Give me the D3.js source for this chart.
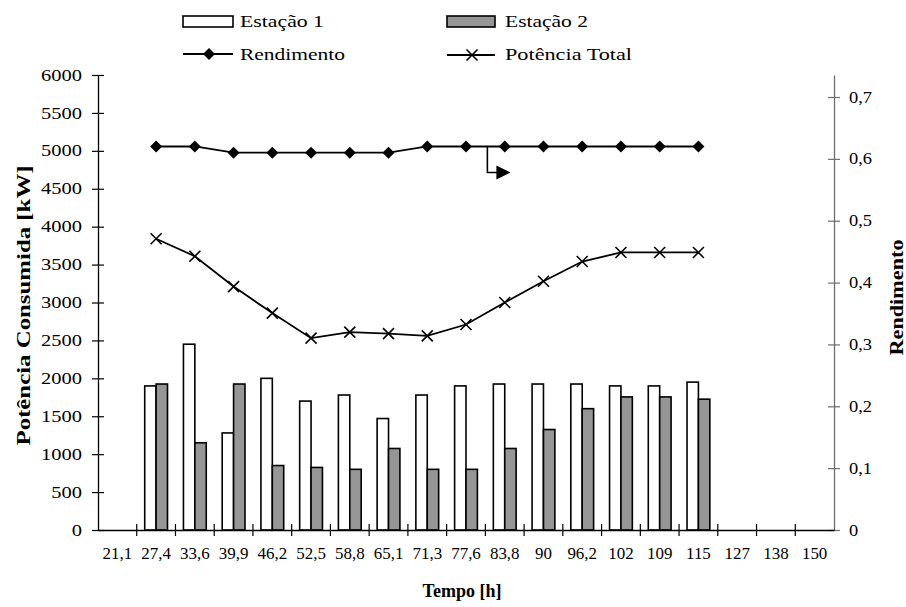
<!DOCTYPE html>
<html>
<head>
<meta charset="utf-8">
<script src="https://cdn.jsdelivr.net/npm/d3@7"></script>
<style>
  html, body { margin: 0; padding: 0; background: #fff; }
  svg { display: block; }
  svg text { font-family: "Liberation Serif", "Times New Roman", "DejaVu Serif", serif !important; fill: #000; }
</style>
</head>
<body>
<svg id="chart" width="906" height="607"></svg>
<script>
// Tempo [h] categories along the x axis
const categories = ["21,1","27,4","33,6","39,9","46,2","52,5","58,8","65,1","71,3","77,6","83,8","90","96,2","102","109","115","127","138","150"];

// Potência consumida por estação [kW]
const estacao1 = [null,1900,2450,1280,2000,1700,1780,1470,1780,1900,1925,1925,1925,1900,1900,1950,null,null,null];
const estacao2 = [null,1925,1150,1925,850,825,800,1075,800,800,1075,1325,1600,1755,1755,1725,null,null,null];

// Potência total [kW] (left axis)
const potenciaTotal = [null,3840,3610,3210,2860,2530,2610,2590,2560,2710,3000,3280,3540,3660,3660,3660,null,null,null];

// Rendimento (right axis)
const rendimento = [null,0.62,0.62,0.61,0.61,0.61,0.61,0.61,0.62,0.62,0.62,0.62,0.62,0.62,0.62,0.62,null,null,null];

// Axis tick values
const leftTicks = [0,500,1000,1500,2000,2500,3000,3500,4000,4500,5000,5500,6000];
const rightTicks = [0,0.1,0.2,0.3,0.4,0.5,0.6,0.7];

const serif = '"Liberation Serif", "Times New Roman", "DejaVu Serif", serif';
const plot = { left: 98, right: 834, top: 75, bottom: 530 };
const svg = d3.select("#chart").attr("font-family", serif);

const x = d3.scaleBand().domain(categories).range([plot.left, plot.right]).paddingInner(0).paddingOuter(0);
const xPair = d3.scaleBand().domain(["e1","e2"]).range([0, x.bandwidth()]).paddingInner(0).paddingOuter(0.7);
const yL = d3.scaleLinear().domain([0, 6000]).range([plot.bottom, plot.top]);
const yR = d3.scaleLinear().domain([0, 0.7 * 455 / 433]).range([plot.bottom, plot.top]);

const comma = d => d === 0 ? "0" : d3.format(".1f")(d).replace(".", ",");

// widen glyphs horizontally by a factor, keeping the anchor point
function widen(sel, factor) {
  sel.each(function () {
    const w = this.getComputedTextLength();
    d3.select(this).attr("textLength", w * factor).attr("lengthAdjust", "spacingAndGlyphs");
  });
}

// ---- bars ----
const barRows = categories.map((c, i) => ({ c, e1: estacao1[i], e2: estacao2[i] })).filter(d => d.e1 != null);
const bars = svg.append("g");
bars.selectAll("rect.e1").data(barRows).join("rect")
  .attr("x", d => x(d.c) + xPair("e1"))
  .attr("y", d => yL(d.e1))
  .attr("width", xPair.bandwidth())
  .attr("height", d => yL(0) - yL(d.e1))
  .attr("fill", "#ffffff").attr("stroke", "#000").attr("stroke-width", 1.6);
bars.selectAll("rect.e2").data(barRows).join("rect")
  .attr("x", d => x(d.c) + xPair("e2"))
  .attr("y", d => yL(d.e2))
  .attr("width", xPair.bandwidth())
  .attr("height", d => yL(0) - yL(d.e2))
  .attr("fill", "#969696").attr("stroke", "#000").attr("stroke-width", 1.6);

// ---- axes ----
function styleTicks(g, factor) {
  g.attr("font-family", serif);
  const t = g.selectAll(".tick text").attr("font-family", serif).style("font-size", "16px");
  widen(t, factor);
}
const axL = svg.append("g").attr("transform", `translate(${plot.left},0)`)
  .call(d3.axisLeft(yL).tickValues(leftTicks).tickSizeInner(6).tickSizeOuter(0).tickPadding(10).tickFormat(d3.format("d")));
axL.select(".domain").attr("stroke", "#000").attr("stroke-width", 1.3);
axL.selectAll(".tick line").attr("x1", 6).attr("stroke", "#000").attr("stroke-width", 1.2);
styleTicks(axL, 1.28);

const axR = svg.append("g").attr("transform", `translate(${plot.right},0)`)
  .call(d3.axisRight(yR).tickValues(rightTicks).tickSizeInner(6).tickSizeOuter(0).tickPadding(9).tickFormat(comma));
axR.select(".domain").attr("stroke", "#6e6e6e").attr("stroke-width", 1.3);
axR.selectAll(".tick line").attr("x1", -6).attr("stroke", "#6e6e6e").attr("stroke-width", 1.2);
styleTicks(axR, 1.15);

const axB = svg.append("g").attr("transform", `translate(0,${plot.bottom})`)
  .call(d3.axisBottom(x).tickSizeInner(0).tickSizeOuter(0).tickPadding(18));
axB.select(".domain").attr("stroke", "#000").attr("stroke-width", 1.3);
styleTicks(axB, 1.06);
// category boundary tick marks
axB.selectAll("line.bound").data(categories.slice(1)).join("line")
  .attr("class", "bound")
  .attr("x1", d => x(d)).attr("x2", d => x(d))
  .attr("y1", -6).attr("y2", 6)
  .attr("stroke", "#000").attr("stroke-width", 1.2);

// ---- lines ----
const totalPts = categories.map((c, i) => ({ c, v: potenciaTotal[i] })).filter(d => d.v != null);
const rendPts = categories.map((c, i) => ({ c, v: rendimento[i] })).filter(d => d.v != null);
const cx = d => x(d.c) + x.bandwidth() / 2;

svg.append("path").datum(totalPts)
  .attr("d", d3.line().x(cx).y(d => yL(d.v)))
  .attr("fill", "none").attr("stroke", "#000").attr("stroke-width", 1.8);
svg.append("g").selectAll("path").data(totalPts).join("path")
  .attr("transform", d => `translate(${cx(d)},${yL(d.v)})`)
  .attr("d", "M-5.5,-5.5L5.5,5.5M-5.5,5.5L5.5,-5.5")
  .attr("stroke", "#000").attr("stroke-width", 1.6);

svg.append("path").datum(rendPts)
  .attr("d", d3.line().x(cx).y(d => yR(d.v)))
  .attr("fill", "none").attr("stroke", "#000").attr("stroke-width", 1.8);
svg.append("g").selectAll("path").data(rendPts).join("path")
  .attr("transform", d => `translate(${cx(d)},${yR(d.v)})`)
  .attr("d", "M0,-6L6,0L0,6L-6,0Z")
  .attr("fill", "#000");

// arrow pointing the Rendimento series to the right-hand axis
const ax0 = x(categories[10]) + 2;
const ay0 = yR(rendimento[10]);
const ay1 = ay0 + 26;
svg.append("path")
  .attr("d", `M${ax0},${ay0}V${ay1}H${ax0 + 10}`)
  .attr("fill", "none").attr("stroke", "#000").attr("stroke-width", 1.6);
svg.append("path")
  .attr("d", `M${ax0 + 9},${ay1 - 7}L${ax0 + 23},${ay1}L${ax0 + 9},${ay1 + 7}Z`)
  .attr("fill", "#000");

// ---- axis titles ----
svg.append("text")
  .attr("transform", `translate(30,${(plot.top + plot.bottom) / 2 + 3}) rotate(-90)`)
  .attr("text-anchor", "middle")
  .attr("textLength", 280).attr("lengthAdjust", "spacingAndGlyphs")
  .style("font-size", "19px").style("font-weight", "bold")
  .text("Potência Consumida [kW]");
svg.append("text")
  .attr("transform", `translate(903,${(plot.top + plot.bottom) / 2 - 5}) rotate(-90)`)
  .attr("text-anchor", "middle")
  .attr("textLength", 116).attr("lengthAdjust", "spacingAndGlyphs")
  .style("font-size", "19px").style("font-weight", "bold")
  .text("Rendimento");
svg.append("text")
  .attr("x", 462).attr("y", 597)
  .attr("text-anchor", "middle")
  .style("font-size", "18px").style("font-weight", "bold")
  .text("Tempo [h]");

// ---- legend ----
const legend = svg.append("g").style("font-size", "17px");
legend.append("rect").attr("x", 183).attr("y", 16).attr("width", 50).attr("height", 11)
  .attr("fill", "#fff").attr("stroke", "#000").attr("stroke-width", 1.6);
legend.append("text").attr("x", 240).attr("y", 27)
  .attr("textLength", 84).attr("lengthAdjust", "spacingAndGlyphs").text("Estação 1");
legend.append("rect").attr("x", 447).attr("y", 16).attr("width", 48).attr("height", 11)
  .attr("fill", "#969696").attr("stroke", "#000").attr("stroke-width", 1.6);
legend.append("text").attr("x", 505).attr("y", 27)
  .attr("textLength", 83).attr("lengthAdjust", "spacingAndGlyphs").text("Estação 2");

legend.append("line").attr("x1", 183).attr("x2", 233).attr("y1", 54).attr("y2", 54)
  .attr("stroke", "#000").attr("stroke-width", 1.8);
legend.append("path").attr("transform", "translate(209,54)").attr("d", "M0,-6L6,0L0,6L-6,0Z").attr("fill", "#000");
legend.append("text").attr("x", 240).attr("y", 60)
  .attr("textLength", 105).attr("lengthAdjust", "spacingAndGlyphs").text("Rendimento");
legend.append("line").attr("x1", 447).attr("x2", 495).attr("y1", 55).attr("y2", 55)
  .attr("stroke", "#000").attr("stroke-width", 1.8);
legend.append("path").attr("transform", "translate(472,55)").attr("d", "M-5.5,-5.5L5.5,5.5M-5.5,5.5L5.5,-5.5")
  .attr("stroke", "#000").attr("stroke-width", 1.6);
legend.append("text").attr("x", 505).attr("y", 60)
  .attr("textLength", 127).attr("lengthAdjust", "spacingAndGlyphs").text("Potência Total");
</script>
</body>
</html>
